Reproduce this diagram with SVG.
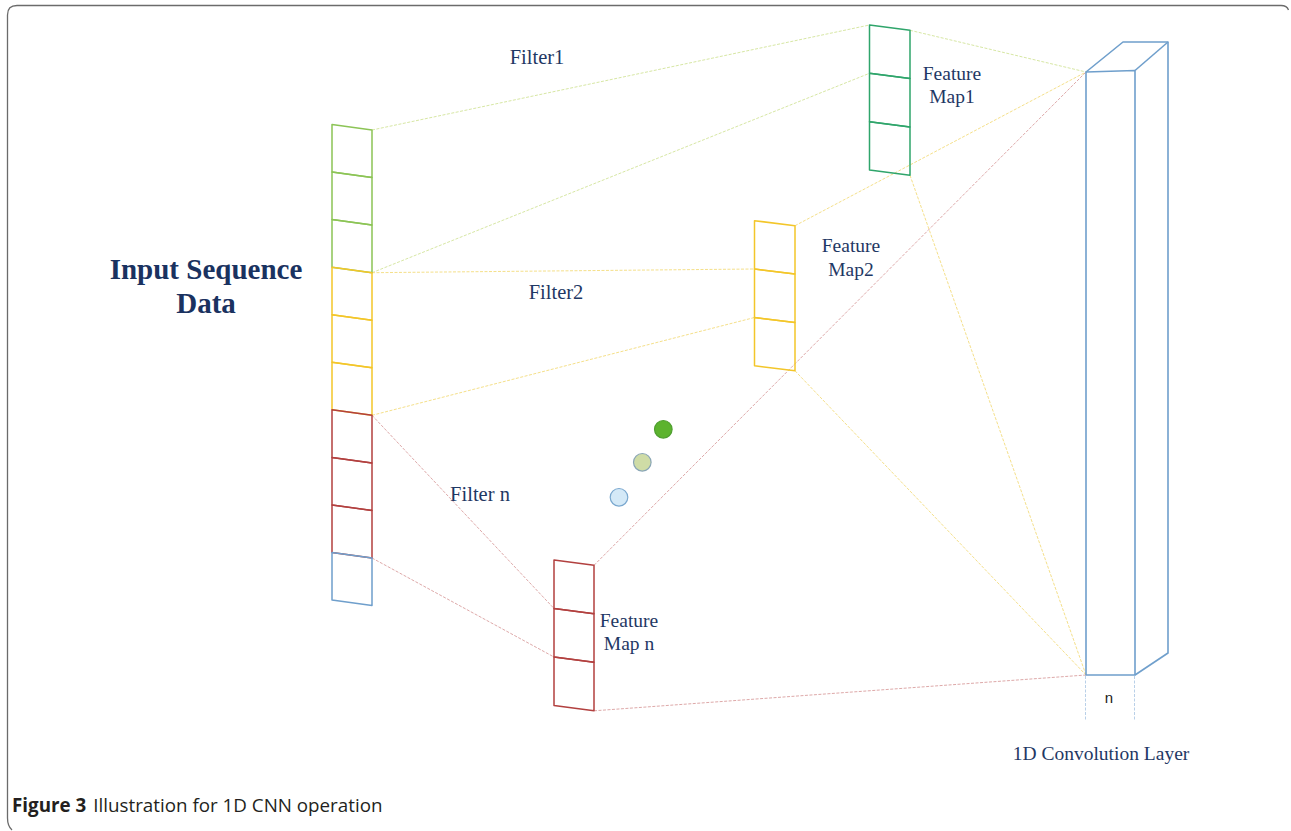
<svg xmlns="http://www.w3.org/2000/svg" width="1291" height="831" viewBox="0 0 1291 831">
<style>
.lbl{font-family:"Liberation Serif","Times New Roman",serif;font-size:19.5px;fill:#1f3864;text-anchor:middle}
.flt{font-size:20.5px}
.big{font-family:"Liberation Serif","Times New Roman",serif;font-size:29px;font-weight:bold;fill:#1a3260;text-anchor:middle}
.cap{font-family:"Open Sans","Noto Sans",sans-serif;font-size:18.8px;fill:#231f20}
.cell{fill:none;stroke-width:1.5;stroke-linejoin:round}
.g{stroke:#8cc456}.y{stroke:#f3c62a}.r{stroke:#b2403f}.b{stroke:#6f9fcc}.t{stroke:#2fa56b}
.conn line{stroke-width:1;stroke-dasharray:3 1.5;fill:none}
.cg{stroke:#d7e7a4}.cy{stroke:#f5e08a}.cr{stroke:#dea9a9}
.box{fill:none;stroke:#6f9fcc;stroke-width:1.6;stroke-linejoin:round}
</style>
<rect width="1291" height="831" fill="#ffffff"/>
<path d="M7.5 818 L7.5 15 Q7.5 5.5 17 5.5 L1281 5.5 Q1287 5.5 1288.5 10 M7.5 818 Q7.5 826 12 830" fill="none" stroke="#6b6b6b" stroke-width="1.3"/>

<g id="connectors" class="conn">
<line class="cg" x1="372" y1="130" x2="869.5" y2="25"/>
<line class="cg" x1="372" y1="272.7" x2="869.5" y2="73.3"/>
<line class="cg" x1="910" y1="30.3" x2="1086" y2="72"/>
<line class="cy" x1="910" y1="175.3" x2="1086" y2="675"/>
<line class="cy" x1="372" y1="272.7" x2="754.5" y2="269"/>
<line class="cy" x1="372" y1="415.3" x2="754.5" y2="317.5"/>
<line class="cy" x1="795" y1="225.7" x2="1086" y2="72"/>
<line class="cy" x1="795" y1="370.8" x2="1086" y2="675"/>
<line class="cr" x1="372" y1="415.3" x2="554" y2="608.5"/>
<line class="cr" x1="372" y1="558" x2="554" y2="657"/>
<line class="cr" x1="594" y1="565.3" x2="1086" y2="72"/>
<line class="cr" x1="594" y1="710.8" x2="1086" y2="675"/>
<line x1="1085.5" y1="676" x2="1085.5" y2="721" stroke="#b9d0e8" stroke-dasharray="2 2"/>
<line x1="1134.5" y1="676" x2="1134.5" y2="721" stroke="#b9d0e8" stroke-dasharray="2 2"/>
</g>

<g id="input">
<polygon class="cell g" points="332,124.5 372,130 372,177.6 332,172.1"/>
<polygon class="cell g" points="332,172.1 372,177.6 372,225.1 332,219.6"/>
<polygon class="cell g" points="332,219.6 372,225.1 372,272.7 332,267.2"/>
<polygon class="cell y" points="332,267.2 372,272.7 372,320.2 332,314.7"/>
<polygon class="cell y" points="332,314.7 372,320.2 372,367.8 332,362.3"/>
<polygon class="cell y" points="332,362.3 372,367.8 372,415.3 332,409.8"/>
<polygon class="cell r" points="332,409.8 372,415.3 372,462.9 332,457.4"/>
<polygon class="cell r" points="332,457.4 372,462.9 372,510.4 332,504.9"/>
<polygon class="cell r" points="332,504.9 372,510.4 372,558 332,552.5"/>
<polygon class="cell b" points="332,552.5 372,558 372,605.5 332,600"/>
<text class="big" x="206" y="279">Input Sequence</text>
<text class="big" x="206" y="313">Data</text>
</g>

<g id="featuremap1">
<polygon class="cell t" points="869.5,25 910,30.3 910,78.6 869.5,73.3"/>
<polygon class="cell t" points="869.5,73.3 910,78.6 910,127 869.5,121.7"/>
<polygon class="cell t" points="869.5,121.7 910,127 910,175.3 869.5,170"/>
<text class="lbl" x="952" y="80">Feature</text>
<text class="lbl" x="952" y="103">Map1</text>
</g>

<g id="featuremap2">
<polygon class="cell y" points="754.5,220.7 795,225.7 795,274 754.5,269"/>
<polygon class="cell y" points="754.5,269 795,274 795,322.5 754.5,317.5"/>
<polygon class="cell y" points="754.5,317.5 795,322.5 795,370.8 754.5,365.8"/>
<text class="lbl" x="851" y="252">Feature</text>
<text class="lbl" x="851" y="276">Map2</text>
</g>

<g id="featuremapn">
<polygon class="cell r" points="554,560 594,565.3 594,613.8 554,608.5"/>
<polygon class="cell r" points="554,608.5 594,613.8 594,662.3 554,657"/>
<polygon class="cell r" points="554,657 594,662.3 594,710.8 554,705.5"/>
<text class="lbl" x="629" y="627">Feature</text>
<text class="lbl" x="629" y="650">Map n</text>
</g>

<g id="filters">
<text class="lbl flt" x="537" y="64">Filter1</text>
<text class="lbl flt" x="556" y="299">Filter2</text>
<text class="lbl flt" x="480" y="501">Filter n</text>
</g>

<g id="dots">
<circle cx="663.3" cy="429.3" r="8.8" fill="#5cb32e" stroke="#4f9f30" stroke-width="1.2"/>
<circle cx="642.3" cy="462.3" r="8.8" fill="#cfdca6" stroke="#8aa6b6" stroke-width="1.2"/>
<circle cx="619" cy="497.3" r="8.8" fill="#d4e9f7" stroke="#7aa8cf" stroke-width="1.2"/>
</g>

<g id="convlayer">
<polygon class="box" points="1086,72 1135,70.5 1135,675 1086,675"/>
<polyline class="box" points="1086,72 1123,42 1168,42 1168,653 1135,675"/>
<line class="box" x1="1135" y1="70.5" x2="1168" y2="42"/>
<text x="1109" y="703" font-family="Liberation Sans, Arial, sans-serif" font-size="15" fill="#222" text-anchor="middle">n</text>
<text class="lbl" x="1101" y="760">1D Convolution Layer</text>
</g>

<g id="caption">
<text class="cap" x="12" y="812"><tspan font-weight="bold">Figure 3</tspan><tspan dx="7">Illustration for 1D CNN operation</tspan></text>
</g>
</svg>
